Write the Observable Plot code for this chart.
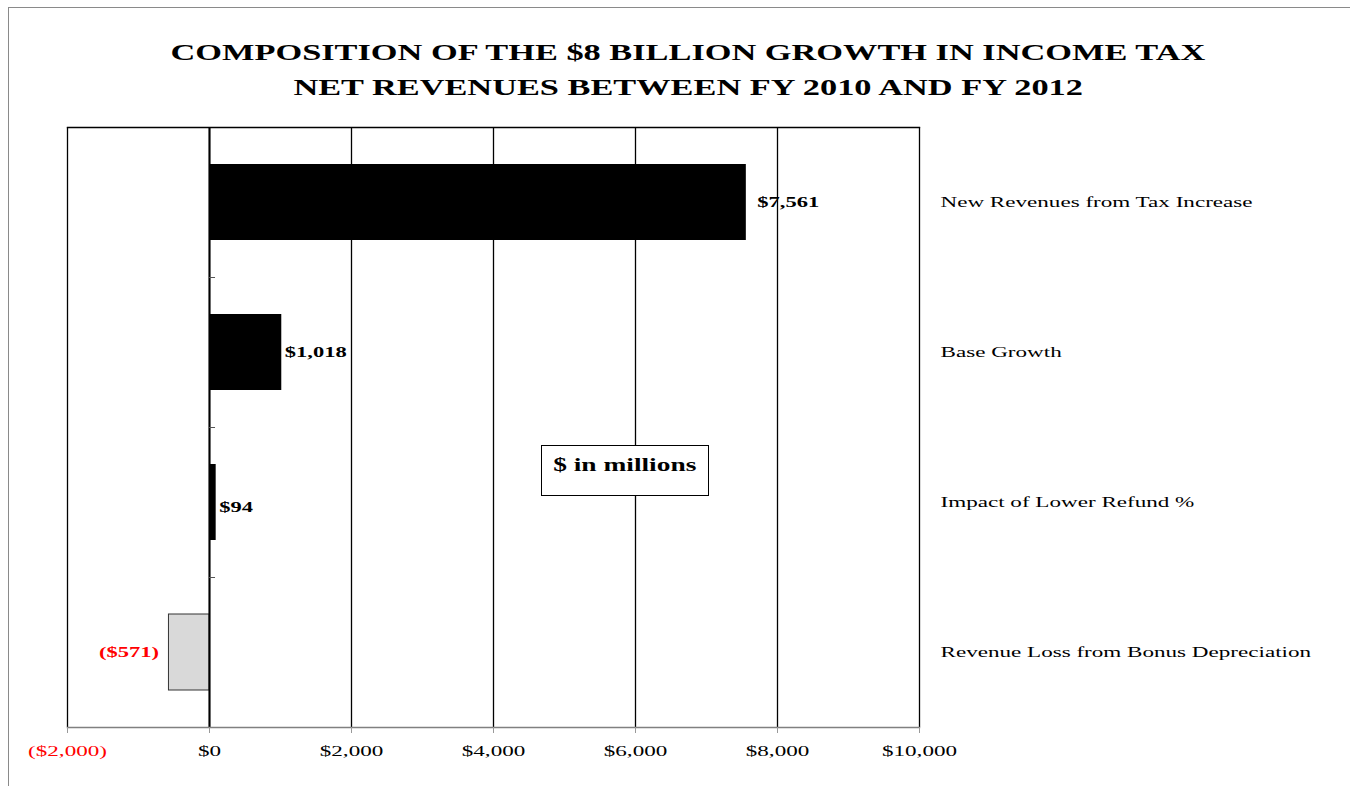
<!DOCTYPE html>
<html>
<head>
<meta charset="utf-8">
<script src="https://cdn.jsdelivr.net/npm/d3@7"></script>
<script src="https://cdn.jsdelivr.net/npm/@observablehq/plot@0.6"></script>
<style>
  html, body { margin: 0; padding: 0; background: #fff; overflow: hidden; width: 1350px; height: 786px; }
  #border { position: absolute; left: 8px; top: 7px; width: 1500px; height: 1000px; border-left: 1px solid #8a8a8a; border-top: 1px solid #8a8a8a; }
  #title { position: absolute; left: 13px; top: 35px; width: 1350px; text-align: center; font-family: "Liberation Serif", "Times New Roman", serif; font-weight: bold; font-size: 22.9px; line-height: 35px; color: #000; }
  #title span { display: inline-block; transform: scaleX(1.5); transform-origin: 50% 50%; white-space: nowrap; }
  #chart { position: absolute; left: 0; top: 110px; }
  #note { position: absolute; left: 541px; top: 445px; width: 168px; height: 51px; border: 1px solid #000; background: #fff; text-align: center; font-family: "Liberation Serif", "Times New Roman", serif; font-weight: bold; font-size: 18.3px; line-height: 20px; padding-top: 9px; box-sizing: border-box; }
  #note span { display: inline-block; transform: scaleX(1.5); transform-origin: 50% 50%; white-space: nowrap; }
</style>
</head>
<body>
<div id="border"></div>
<div id="title"><span>COMPOSITION OF THE $8 BILLION GROWTH IN INCOME TAX</span><br><span>NET REVENUES BETWEEN FY 2010 AND FY 2012</span></div>
<div id="chart"></div>
<div id="note"><span>$ in millions</span></div>
<script>
const categories = [
  "New Revenues from Tax Increase",
  "Base Growth",
  "Impact of Lower Refund %",
  "Revenue Loss from Bonus Depreciation"
];
const values = [7561, 1018, 94, -571];
const xTicks = [-2000, 0, 2000, 4000, 6000, 8000, 10000];

const data = categories.map((c, i) => ({category: c, value: values[i], i}));
const num = d3.format(",");
const fmt = v => v < 0 ? `($${num(-v)})` : `$${num(v)}`;
const serif = "'Liberation Serif', 'Times New Roman', serif";
const labelStyle = {x: "value", y: "category", text: d => fmt(d.value), fontWeight: "bold", fontSize: 15};

const plot = Plot.plot({
  width: 1350,
  height: 676,
  marginTop: 17,
  marginBottom: 59,
  marginLeft: 67,
  marginRight: 431,
  style: {fontFamily: serif, fontSize: "15.4px", color: "#000", background: "transparent", overflow: "visible"},
  x: {domain: [xTicks[0], xTicks[xTicks.length - 1]], ticks: xTicks},
  y: {domain: categories, padding: 0, label: null},
  marks: [
    Plot.ruleX(xTicks, {stroke: "#000", strokeWidth: 1.3}),
    Plot.frame({anchor: "top", stroke: "#000", strokeWidth: 1.3}),
    Plot.barX(data.filter(d => d.value >= 0), {x: "value", y: "category", fill: "#000", insetTop: 37, insetBottom: 37}),
    Plot.barX(data.filter(d => d.value < 0), {x: "value", y: "category", fill: "#d9d9d9", stroke: "#333", strokeWidth: 1, insetTop: 37, insetBottom: 37}),
    Plot.ruleX([0], {stroke: "#000", strokeWidth: 2}),
    Plot.ruleY(categories.slice(1), {y: d => d, x1: 0, x2: 85, dy: -75, stroke: "#555", strokeWidth: 1}),
    Plot.frame({anchor: "bottom", stroke: "#808080", strokeWidth: 1.5}),
    Plot.text(data.filter(d => d.i === 0), {...labelStyle, textAnchor: "start", dx: 11, fill: "#000"}),
    Plot.text(data.filter(d => d.i === 1), {...labelStyle, textAnchor: "start", dx: 3, fill: "#000"}),
    Plot.text(data.filter(d => d.i === 2), {...labelStyle, textAnchor: "start", dx: 3, dy: 5, fill: "#000"}),
    Plot.text(data.filter(d => d.value < 0), {...labelStyle, textAnchor: "end", dx: -10, fill: "#ff0000"}),
    Plot.axisX(xTicks.filter(v => v < 0), {tickFormat: fmt, tickSize: 6, tickPadding: 12, stroke: "#999", fill: "#ff0000", label: null}),
    Plot.axisX(xTicks.filter(v => v >= 0), {tickFormat: fmt, tickSize: 6, tickPadding: 12, stroke: "#999", fill: "#000", label: null}),
    Plot.axisY({anchor: "right", tickSize: 0, tickPadding: 21, label: null, fill: "#000"})
  ]
});

document.getElementById("chart").appendChild(plot);

// the reference is stretched horizontally: widen every glyph run by the same factor
const K = 1.5;
plot.querySelectorAll("text").forEach(t => {
  const n = t.getComputedTextLength();
  if (n > 0) {
    t.setAttribute("textLength", n * K);
    t.setAttribute("lengthAdjust", "spacingAndGlyphs");
  }
});
</script>
</body>
</html>
